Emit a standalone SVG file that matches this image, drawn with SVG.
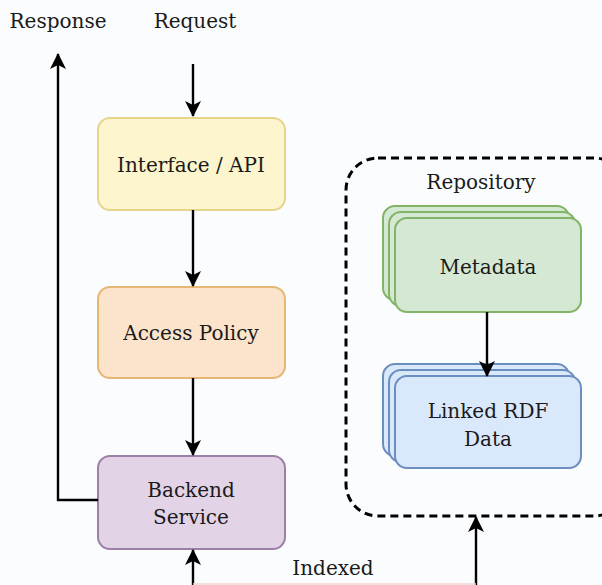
<svg xmlns="http://www.w3.org/2000/svg" width="602" height="585" viewBox="0 0 602 585">
<defs>
<marker id="ah" markerWidth="16" markerHeight="16" viewBox="0 0 16 16" refX="15" refY="8" orient="auto" markerUnits="userSpaceOnUse">
<path d="M0,0 L16,8 L0,16 L4,8 Z" fill="#000"/>
</marker>
<style>
text{font-family:"DejaVu Serif","Liberation Serif",serif;font-size:20px;fill:#1a1a1a;text-anchor:middle}
.c{fill:none;stroke:#000;stroke-width:2.4}
.y{fill:#fdf5cd;stroke:#e6d68c;stroke-width:2}
.o{fill:#fce3cb;stroke:#e6b774;stroke-width:2}
.p{fill:#e3d3e6;stroke:#9b81a6;stroke-width:2}
.g{fill:#d5e8d4;stroke:#82b366;stroke-width:2}
.b{fill:#dae8fc;stroke:#6c8ebf;stroke-width:2}
</style>
</defs>
<rect width="602" height="585" fill="#fbfcfe"/>
<text x="58" y="28">Response</text>
<text x="195" y="28">Request</text>
<g id="repository">
<rect x="346" y="158" width="280" height="358" rx="32" fill="none" stroke="#000" stroke-width="3" stroke-dasharray="8 5"/>
<text x="481" y="189">Repository</text>
</g>
<g id="interface">
<rect class="y" x="98" y="118" width="187" height="92" rx="12"/>
<text x="191" y="172">Interface / API</text>
</g>
<g id="access">
<rect class="o" x="98" y="287" width="187" height="91" rx="12"/>
<text x="191" y="340">Access Policy</text>
</g>
<g id="backend">
<rect class="p" x="98" y="456" width="187" height="93" rx="12"/>
<text x="191" y="497">Backend</text>
<text x="191" y="524">Service</text>
</g>
<g id="metadata">
<rect class="g" x="383" y="206" width="186" height="94" rx="12"/>
<rect class="g" x="389" y="212" width="186" height="94" rx="12"/>
<rect class="g" x="395" y="218" width="186" height="94" rx="12"/>
<text x="488" y="274">Metadata</text>
</g>
<g id="rdf">
<rect class="b" x="383" y="364" width="186" height="92" rx="12"/>
<rect class="b" x="389" y="370" width="186" height="92" rx="12"/>
<rect class="b" x="395" y="376" width="186" height="92" rx="12"/>
<text x="488" y="418">Linked RDF</text>
<text x="488" y="446">Data</text>
</g>
<g id="connectors">
<line class="c" x1="193" y1="64" x2="193" y2="116" marker-end="url(#ah)"/>
<line class="c" x1="193" y1="210" x2="193" y2="286" marker-end="url(#ah)"/>
<line class="c" x1="193" y1="378" x2="193" y2="455" marker-end="url(#ah)"/>
<polyline class="c" points="98,500 58,500 58,54" marker-end="url(#ah)"/>
<line class="c" x1="487" y1="312" x2="487" y2="376" marker-end="url(#ah)"/>
<line class="c" x1="193" y1="600" x2="193" y2="550" marker-end="url(#ah)"/>
<line class="c" x1="476" y1="600" x2="476" y2="517" marker-end="url(#ah)"/>
<line x1="193" y1="584" x2="476" y2="584" stroke="#f2d6d0" stroke-width="1.5"/>
<text x="333" y="575">Indexed</text>
</g>
</svg>
